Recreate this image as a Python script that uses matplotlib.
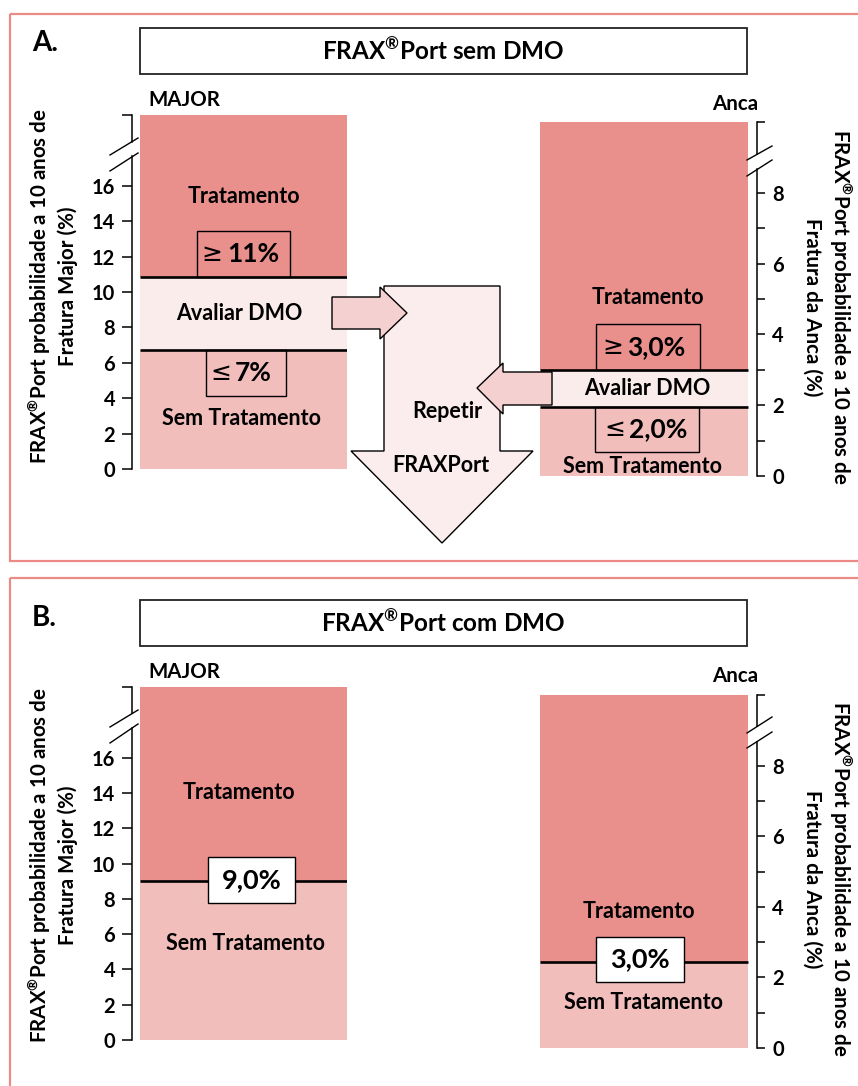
import matplotlib
matplotlib.use('Agg')
from matplotlib import pyplot as plt
from matplotlib.patches import Rectangle, Polygon

plt.rcParams['font.family'] = ['Lato', 'DejaVu Sans']
plt.rcParams['font.weight'] = 'bold'
plt.rcParams['mathtext.fontset'] = 'custom'
plt.rcParams['mathtext.rm'] = 'Lato'
plt.rcParams['mathtext.bf'] = 'Lato:bold'

W, H = 858, 1086

# zone boundaries, bottom -> top
major_a_edges = [0, 6.7, 10.85, 20]
anca_a_edges = [0, 1.95, 3.0, 10]
major_b_edges = [0, 9.0, 20]
anca_b_edges = [0, 2.45, 10]
zones_a = ['Sem Tratamento', 'Avaliar DMO', 'Tratamento']
zones_b = ['Sem Tratamento', 'Tratamento']

major_ticks = [0, 2, 4, 6, 8, 10, 12, 14, 16]
anca_ticks = [0, 2, 4, 6, 8]
anca_minor = [1, 3, 5, 7]

colors = {'Tratamento': '#E9908C', 'Avaliar DMO': '#FBECEC', 'Sem Tratamento': '#F2BEBC'}
border_red = '#EC8A85'
frax = 'FRAX$^{\\mathbf{\u00ae}}$Port'

fig = plt.figure(figsize=(W / 100, H / 100), dpi=100)

# background layer in pixel coords (frames, title boxes, labels)
bg = fig.add_axes([0, 0, 1, 1], zorder=0)
bg.set_xlim(0, W)
bg.set_ylim(H, 0)
bg.axis('off')


def rect_axes(x0, x1, ytop, ybot):
    return fig.add_axes([x0 / W, 1 - ybot / H, (x1 - x0) / W, (ybot - ytop) / H], zorder=2)


def draw_bar(ax, edges, zones):
    for i, z in enumerate(zones):
        ax.bar(0, edges[i + 1] - edges[i], bottom=edges[i], width=1, align='edge',
               color=colors[z], zorder=1)
    ax.hlines(edges[1:-1], 0, 1, color='black', lw=1.9, zorder=2)


def setup_major(ax, gap):
    off = -8 / 207
    ax.set_xlim(off, 1)
    ax.set_ylim(0, 20)
    for s in ['top', 'right', 'bottom']:
        ax.spines[s].set_visible(False)
    ax.spines['left'].set_linewidth(1.1)
    ax.spines['left'].set_bounds(0, gap[0])
    ax.plot([off, off], [gap[1], 20], color='black', lw=1.1, clip_on=False)
    ax.set_yticks(major_ticks + [20])
    ax.set_yticklabels([str(t) for t in major_ticks] + [''])
    ax.set_xticks([])
    ax.tick_params(axis='y', length=7, width=1.1, pad=5, labelsize=14.5)
    ax.patch.set_alpha(0)


def setup_anca(ax, gap):
    off = 217 / 208
    ax.set_xlim(0, off)
    ax.set_ylim(0, 10)
    for s in ['top', 'left', 'bottom']:
        ax.spines[s].set_visible(False)
    ax.spines['right'].set_linewidth(1.1)
    ax.spines['right'].set_bounds(0, gap[0])
    ax.plot([off, off], [gap[1], 10], color='black', lw=1.1, clip_on=False)
    ax.yaxis.tick_right()
    ax.set_yticks(anca_ticks + [10])
    ax.set_yticklabels([str(t) for t in anca_ticks] + [''])
    ax.set_yticks(anca_minor, minor=True)
    ax.set_xticks([])
    ax.tick_params(axis='y', which='both', length=6, width=1.1, pad=5, labelsize=14.5)
    ax.patch.set_alpha(0)


def zone_text(ax, x, y, s):
    ax.text(x, y, s, ha='center', va='center', fontsize=15.5, zorder=5)


def value_box(ax, x0, x1, y0, y1, num, sym=None, split=None, face='none'):
    ax.add_patch(Rectangle((x0, y0), x1 - x0, y1 - y0, facecolor=face,
                           edgecolor='black', lw=1.0, zorder=3, clip_on=False))
    yc = (y0 + y1) / 2
    if sym:
        ax.text(split, yc, sym, ha='right', va='center', fontsize=18,
                fontweight='normal', family=['DejaVu Sans'], zorder=4)
        ax.text(split + 0.02, yc, num, ha='left', va='center', fontsize=19, zorder=4)
    else:
        ax.text((x0 + x1) / 2, yc, num, ha='center', va='center', fontsize=19.5, zorder=4)


# ---- panel A ----
ax1 = rect_axes(132, 347, 115, 469)
draw_bar(ax1, major_a_edges, zones_a)
setup_major(ax1, (17.7, 18.5))
zone_text(ax1, 0.50, 15.4, 'Tratamento')
zone_text(ax1, 0.48, 8.8, 'Avaliar DMO')
zone_text(ax1, 0.49, 2.85, 'Sem Tratamento')
value_box(ax1, 0.275, 0.725, 10.85, 13.43, '11%', '\u2265', 0.40)
value_box(ax1, 0.32, 0.705, 4.14, 6.7, '7%', '\u2264', 0.44)

ax2 = rect_axes(540, 757, 122, 476)
draw_bar(ax2, anca_a_edges, zones_a)
setup_anca(ax2, (8.68, 9.11))
zone_text(ax2, 0.52, 5.05, 'Tratamento')
zone_text(ax2, 0.515, 2.48, 'Avaliar DMO')
zone_text(ax2, 0.495, 0.28, 'Sem Tratamento')
value_box(ax2, 0.27, 0.77, 3.0, 4.28, '3,0%', '\u2265', 0.40)
value_box(ax2, 0.264, 0.764, 0.68, 1.95, '2,0%', '\u2264', 0.41)

# ---- panel B ----
ax3 = rect_axes(132, 347, 687, 1040)
draw_bar(ax3, major_b_edges, zones_b)
setup_major(ax3, (17.7, 18.5))
zone_text(ax3, 0.48, 14.05, 'Tratamento')
zone_text(ax3, 0.51, 5.45, 'Sem Tratamento')
value_box(ax3, 0.33, 0.75, 7.76, 10.37, '9,0%', face='white')

ax4 = rect_axes(540, 757, 695, 1048)
draw_bar(ax4, anca_b_edges, zones_b)
setup_anca(ax4, (8.68, 9.11))
zone_text(ax4, 0.476, 3.88, 'Tratamento')
zone_text(ax4, 0.50, 1.3, 'Sem Tratamento')
value_box(ax4, 0.27, 0.69, 1.87, 3.14, '3,0%', face='white')

# frames and titles
bg.add_patch(Rectangle((10, 14), 870, 547, fill=False, edgecolor=border_red, lw=1.6))
bg.add_patch(Rectangle((10, 578), 870, 540, fill=False, edgecolor=border_red, lw=1.6))
for top, title, letter, ly in [(28, frax + ' sem DMO', 'A.', 43),
                               (600, frax + ' com DMO', 'B.', 618)]:
    bg.add_patch(Rectangle((140, top), 607, 46, fill=False, edgecolor='#222222', lw=1.3))
    bg.text(443.5, top + 23, title, ha='center', va='center', fontsize=17.5)
    bg.text(32, ly, letter, ha='left', va='center', fontsize=20)

ylab_major = frax + ' probabilidade a 10 anos de\nFratura Major (%)'
ylab_anca = frax + ' probabilidade a 10 anos de\nFratura da Anca (%)'
for yoff, yl, yr in [(0, 286, 307), (572, 865, 879)]:
    bg.text(148, 100 + yoff, 'MAJOR', ha='left', va='center', fontsize=14.8)
    bg.text(758, 104 + yoff, 'Anca', ha='right', va='center', fontsize=14.8)
    bg.text(52, yl, ylab_major, rotation=90, ha='center', va='center',
            multialignment='center', fontsize=14.8, linespacing=1.25)
    bg.text(828, yr, ylab_anca, rotation=-90, ha='center', va='center',
            multialignment='center', fontsize=14.8, linespacing=1.25)

# top layer: arrows and axis-break slashes
top_ax = fig.add_axes([0, 0, 1, 1], zorder=6)
top_ax.set_xlim(0, W)
top_ax.set_ylim(H, 0)
top_ax.axis('off')

down = [(384, 286), (500, 286), (500, 451), (533, 451), (442, 543), (351, 451), (384, 451)]
top_ax.add_patch(Polygon(down, closed=True, facecolor='#FBEDED', edgecolor='black', lw=1.0))
right_arr = [(332, 297), (380, 297), (380, 287), (407, 313), (380, 339), (380, 329), (332, 329)]
top_ax.add_patch(Polygon(right_arr, closed=True, facecolor='#F5D0D0', edgecolor='black', lw=1.0))
left_arr = [(552, 372), (503, 372), (503, 363), (477, 388), (503, 414), (503, 405), (552, 405)]
top_ax.add_patch(Polygon(left_arr, closed=True, facecolor='#F5D0D0', edgecolor='black', lw=1.0))
top_ax.text(447, 412, 'Repetir', ha='center', va='center', fontsize=15.5)
top_ax.text(441, 466, 'FRAXPort', ha='center', va='center', fontsize=15.5)

slashes = [((110, 155), (138, 138)), ((110, 171), (138, 153)),
           ((747, 160), (772, 146)), ((747, 176), (772, 160)),
           ((110, 727), (138, 710)), ((110, 743), (138, 724)),
           ((747, 733), (772, 717)), ((747, 748), (772, 732))]
for (xa, ya), (xb, yb) in slashes:
    top_ax.plot([xa, xb], [ya, yb], color='black', lw=1.0)

fig.savefig('out.png', dpi=100)
